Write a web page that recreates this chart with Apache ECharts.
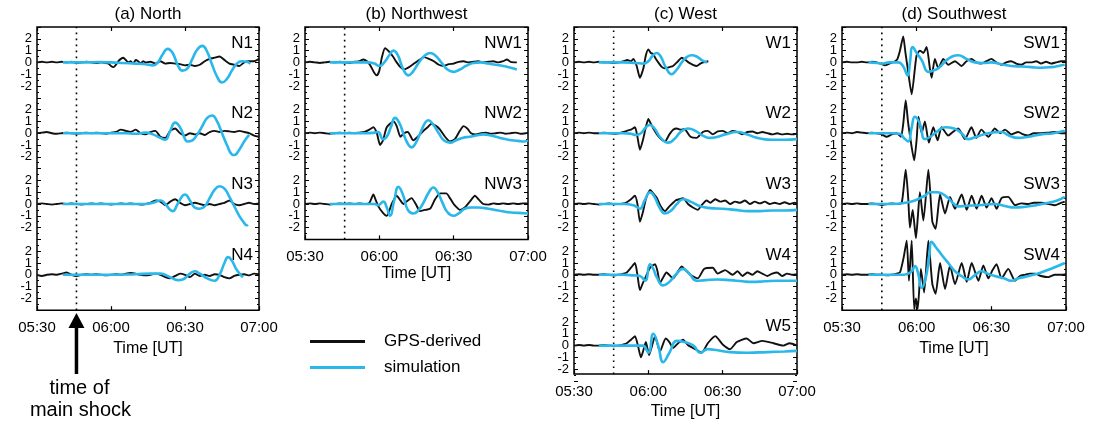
<!DOCTYPE html>
<html>
<head>
<meta charset="utf-8">
<script src="https://cdn.jsdelivr.net/npm/echarts@6/dist/echarts.min.js"></script>
<style>
  html, body { margin: 0; padding: 0; background: #fff; }
  #main { width: 1093px; height: 425px; }
</style>
</head>
<body>
<div id="main"></div>
<script>
// time axis: minutes after 05:30 UT
const timeLabels = ['05:30', '06:00', '06:30', '07:00'];
const shockMinute = 16; // 05:46 main shock

// (a) North
const n1Gps = [[0,0],[2,0.05],[4,0],[6,0.05],[8,0],[10,0.05],[12,0],[14,0.05],[16,-0.05],[18,0],[20,0.05],[22,0],[24,-0.05],[26,0],[28,-0.05],[29,-0.1],[30,-0.3],[31,-0.4],[32,-0.2],[33,0.1],[34,0.3],[35,0.4],[36,0.2],[37,0],[38,0.1],[39,-0.1],[40,0.2],[41,0.1],[42,-0.1],[43,0.1],[44,0],[46,0.05],[48,-0.1],[50,0.1],[52,-0.1],[54,-0.05],[56,-0.1],[58,-0.15],[60,-0.25],[62,-0.2],[64,-0.3],[66,-0.2],[68,0.1],[70,0.3],[72,0.4],[74,0.5],[76,0.2],[78,-0.1],[80,-0.2],[82,-0.3],[84,0],[86,0.1],[88,0.1],[90,0.3]];
const n1Sim = [[10.5,0],[15,0],[20,0],[25,0.02],[30,0],[35,-0.05],[40,-0.1],[44,-0.15],[47,-0.25],[49,0],[51,0.7],[53,1.15],[55,0.8],[57,-0.2],[59,-0.7],[61,-0.5],[63,0.3],[65,1.1],[67,1.4],[69,0.9],[71,-0.2],[73,-1.2],[75,-1.7],[77,-1.4],[79,-0.7],[81,-0.1],[83,0.1],[85,0.05],[86.5,-0.1]];
const n2Gps = [[0,0],[2,0.05],[4,0.1],[6,0],[8,-0.05],[10,0],[12,0.05],[14,0],[16,-0.05],[18,0],[20,0.05],[22,0],[24,0.05],[26,0],[28,-0.05],[30,0.05],[32,0.1],[34,0.3],[36,0.2],[38,0.1],[40,0.3],[42,0],[44,-0.1],[46,0.1],[48,0.2],[50,-0.3],[52,-0.4],[54,0.2],[56,0.4],[58,0],[60,-0.2],[62,0],[64,-0.1],[66,0],[68,-0.15],[70,0.1],[72,0.2],[74,0.1],[76,0.2],[78,0.15],[80,0.1],[82,0.2],[84,0.1],[86,0],[88,-0.2],[90,-0.3]];
const n2Sim = [[10.5,0],[20,0],[30,0],[36,0],[40,-0.05],[44,0.05],[47,-0.1],[50,-0.4],[52,-0.55],[54,0.2],[56,0.9],[58,0.5],[60,-0.5],[61,-0.7],[63,-0.6],[65,-0.1],[67,0.6],[69,1.3],[71,1.5],[73,1.0],[75,0],[77,-1.0],[79,-1.8],[80,-1.85],[82,-1.4],[84,-0.7],[86,-0.15]];
const n3Gps = [[0,0],[2,0.05],[4,0],[6,-0.05],[8,0],[10,0.05],[12,0],[14,0.05],[16,0],[18,-0.05],[20,0],[22,0.05],[24,0],[26,0.05],[28,0],[30,-0.05],[32,0],[34,0.05],[36,0],[38,0.05],[40,0],[42,-0.05],[44,0],[46,0.1],[48,0.3],[50,0.2],[52,-0.1],[54,0.2],[56,0.4],[58,0.1],[60,-0.1],[62,0],[64,0.1],[66,0],[68,-0.1],[70,0],[72,-0.1],[74,0],[76,0.1],[78,0.3],[80,0],[82,-0.1],[84,0],[86,0.1],[88,0],[90,0.05]];
const n3Sim = [[10.5,0],[20,0],[30,0],[38,0],[44,0],[47,0.1],[50,0.3],[52,0],[54,-0.5],[55,-0.6],[57,0],[59,0.7],[60,0.8],[62,0.3],[64,-0.3],[66,-0.4],[68,-0.2],[70,0.5],[72,1.2],[74,1.5],[76,1.3],[78,0.6],[80,-0.2],[82,-1.0],[84,-1.6],[85,-1.8],[85.5,-1.75]];
const n4Gps = [[0,0],[2,-0.1],[4,0],[6,0.05],[8,0],[10,0.1],[12,0.2],[14,0],[16,-0.1],[18,0],[20,0.05],[22,0],[24,0.05],[26,0],[28,-0.05],[30,0],[32,0.05],[34,0],[36,0.1],[38,0.15],[40,0.1],[42,0],[44,-0.05],[46,0],[48,0.1],[50,0],[52,-0.2],[54,-0.3],[56,-0.1],[58,0.1],[60,0],[62,-0.2],[64,0.1],[66,-0.1],[68,0],[70,-0.1],[72,0.05],[74,0],[76,-0.2],[78,-0.3],[80,-0.1],[82,0],[84,0.05],[86,-0.05],[88,0.1],[90,0.05]];
const n4Sim = [[10.5,0],[20,0],[30,0],[40,0.05],[46,0.1],[50,0.1],[54,-0.2],[57,-0.45],[59,-0.4],[62,0.1],[64,0.3],[66,0.1],[69,-0.3],[72,-0.5],[74,0],[76,1.0],[77.5,1.5],[79,1.2],[81,0.4],[83.5,-0.2]];

// (b) Northwest
const nw1Gps = [[0,0],[2,0.05],[4,0],[6,-0.05],[8,0],[10,0.05],[12,0],[14,0.05],[16,0],[18,-0.05],[20,0.05],[22,0.1],[23.5,0.25],[25,0.1],[26.5,-0.3],[28,-0.9],[29,-1.1],[30,-0.7],[31,0.4],[32.3,1.2],[34,0.9],[35.5,0.5],[37,0],[38.5,-0.4],[40,-0.6],[42,-0.4],[44,-0.1],[46,0.2],[48,0.45],[50,0.3],[52,0.1],[54,-0.2],[56,-0.3],[58,-0.15],[60,-0.1],[62,0.05],[64,0.1],[66,0],[68,0.05],[70,0.1],[72,0],[74,0.05],[76,0.1],[78,0],[80,0.1],[81.5,0.25],[83,0.05],[85.5,0]];
const nw1Sim = [[10,0],[15,0],[20,0],[25,0],[28,-0.1],[30,-0.3],[32,0],[34,0.6],[35.7,1.0],[37.5,0.6],[39.5,-0.5],[41.7,-1.1],[43.5,-0.8],[46,0],[48.5,0.6],[50.5,0.8],[52.5,0.6],[55,0],[57.5,-0.6],[60,-0.8],[62.5,-0.6],[65,-0.3],[68,-0.05],[71,0],[74,-0.1],[77,-0.2],[80,-0.3],[83,-0.45],[85.5,-0.6]];
const nw2Gps = [[0,0],[2,0.05],[4,0],[6,0.05],[8,0],[10,-0.05],[12,0],[14,0.05],[16,0],[18,0.05],[20,0],[22,0.05],[24,0.1],[26,0.3],[27.6,0.5],[29,0],[30.3,-1.0],[31.5,-0.6],[33,0.5],[35.7,1.0],[37,0.6],[38.5,-0.3],[40,0],[41.5,0.1],[43.7,-0.6],[45.5,-0.3],[47.8,0.2],[49.5,0.5],[51,0.8],[53,0.6],[54.5,0.3],[56.5,-0.3],[58.5,-0.7],[60.5,-0.5],[62.5,0.2],[64,0.6],[65.5,0.4],[67,0],[69,-0.1],[71,0],[73,0.05],[75,-0.05],[77,0],[79,0.05],[81,-0.05],[83,0],[85,0.05],[87,-0.05],[89,0],[90,0.05]];
const nw2Sim = [[10,0],[15,0],[20,0],[25,0],[28,0.05],[29.5,0.1],[31.5,-0.5],[33,-0.3],[34.8,0.6],[36.3,1.3],[38,0.9],[40,-0.2],[41.8,-1.0],[43,-1.2],[44.5,-0.9],[46.5,0],[48.5,0.9],[49.8,1.1],[51.5,0.8],[54,0],[56,-0.6],[58.5,-0.8],[61,-0.6],[63.5,-0.4],[66.5,-0.3],[69,-0.2],[72,-0.1],[75,-0.2],[78.7,-0.4],[82,-0.55],[86,-0.65],[88.5,-0.7],[90,-0.6]];
const nw3Gps = [[0,0],[2,0.05],[4,0],[6,0.05],[8,0],[10,-0.05],[12,0],[14,0.05],[16,0],[18,0.05],[20,0],[22,0.05],[24,0],[26,0.1],[27.6,0.8],[28.6,0.3],[29.6,-0.2],[31.3,-0.7],[33,-1.0],[35,0],[37,0.7],[38.5,0.3],[39.7,0],[41.5,0.3],[43,0.5],[44.7,0],[46.4,-0.6],[48.5,-0.5],[50.5,-0.4],[52.5,0.4],[54.5,0.9],[57,0.9],[58.5,0.5],[60,0],[62.6,-0.5],[64.5,-0.3],[66.5,0.2],[68.6,0.7],[70,0.4],[72,0],[74,-0.05],[76,0.05],[78,0],[80,0.05],[82,0],[84,0.05],[86,0],[88,0.05],[90,0.05]];
const nw3Sim = [[10,0],[15,0],[20,0],[25,0],[28,0],[29.5,-0.1],[31.6,0.2],[33,-0.3],[34.3,-1.0],[36,0.3],[37.7,1.45],[39.5,0.8],[41.5,-0.5],[43.7,-0.8],[45.5,-0.6],[47.5,0],[50,1.0],[51.8,1.4],[53.5,1.0],[55.5,0.1],[57.5,-0.7],[59.9,-1.0],[62,-0.8],[64.5,-0.4],[67,-0.3],[70,-0.3],[74,-0.4],[78,-0.55],[82,-0.7],[86,-0.75],[90,-0.8]];

// (c) West
const w1Gps = [[0,0],[2,0.05],[4,0],[6,0.05],[8,0],[10,0.05],[12,0],[14,0],[16,-0.05],[18,0],[20,0.1],[21.5,0.2],[23,0.1],[24,0.3],[25.3,-0.3],[26.6,-1.3],[28,-0.5],[29,0.6],[30,1.1],[31,0.8],[32,0.7],[33,0.3],[34,0],[35.5,-0.4],[36.7,-0.5],[38.5,-0.4],[40,-0.3],[42,0.1],[43.5,0.4],[45,0.2],[46.2,0],[48,-0.2],[49.5,-0.3],[51,-0.1],[52.2,0],[54.2,0.1]];
const w1Sim = [[10,0],[15,0],[20,0],[25,-0.05],[28,-0.1],[30,0.1],[31.5,0.5],[33.4,0.8],[35,0.5],[37,-0.4],[39.4,-1.0],[41.5,-0.6],[43.5,0],[45.5,0.45],[47.5,0.6],[49.5,0.5],[51.5,0.2],[53.6,0]];
const w2Gps = [[0,0],[2,0.05],[4,0],[6,0.05],[8,0],[10,0],[12,0.05],[14,0],[16,-0.05],[18,0],[20,0.1],[21.3,0.2],[23,0.3],[24.6,0.5],[25.6,-0.3],[26.6,-1.4],[27.8,-0.6],[29,0.5],[30,1.2],[31,0.8],[32,0.4],[33.5,-0.1],[34.7,-0.4],[36.7,-0.7],[38.5,-0.1],[40,0.3],[41.5,0.4],[43,0.3],[44.5,0.35],[47,-0.3],[49.5,-0.4],[52,0.1],[54,0.2],[56,-0.1],[58,0.15],[60,0.2],[62,0],[64,0.2],[66,0.1],[68,-0.1],[70,0.1],[72,0.15],[74,0],[76,0.1],[78,0],[80,-0.1],[82,0],[84,-0.1],[86,-0.05],[88,-0.1],[90,-0.05]];
const w2Sim = [[10,0],[15,0],[20,0],[23,-0.05],[25,-0.15],[27,0],[29,0.5],[30.7,0.7],[32.5,0.4],[35,-0.4],[38,-0.8],[40.5,-0.5],[43,0.1],[46,0.4],[49,0.2],[52,-0.2],[55,-0.4],[58,-0.3],[61,-0.1],[65.7,0.1],[70,-0.1],[73,-0.35],[76.4,-0.5],[80,-0.55],[85,-0.55],[90,-0.5]];
const w3Gps = [[0,0],[2,0.05],[4,0],[6,0.05],[8,0],[10,-0.05],[12,0],[14,0.05],[16,0],[18,0],[20,0.05],[21.3,0.15],[23,0.4],[24.6,0.7],[25.6,0],[26.6,-1.5],[27.8,-0.7],[29,0.4],[30.7,1.2],[32,0.9],[33.5,0.5],[35,-0.2],[36.7,-0.6],[38.5,-0.2],[41,0.3],[42.5,0.4],[44,0.5],[46,0],[48,-0.3],[50,-0.5],[51.5,-0.1],[53.5,0.3],[55,0.1],[57,0.4],[59,0.2],[61,0.3],[63,0],[65,0.2],[67,0.1],[69,0.3],[71,0],[73,0.2],[75,0.05],[77,0.2],[79,0],[81,0.1],[83,0],[85,0.15],[87,0],[89,0.1],[90,0]];
const w3Sim = [[10,0],[15,0],[20,0],[24,-0.1],[26.6,-0.4],[28.5,0.3],[30.7,1.0],[32.5,0.6],[34.5,-0.3],[36.7,-0.8],[39,-0.6],[41.5,0],[44,0.4],[47,0.2],[51,-0.2],[55,-0.35],[60,-0.4],[65,-0.5],[70,-0.6],[75,-0.6],[80,-0.55],[85,-0.55],[90,-0.5]];
const w4Gps = [[0,0],[2,0.05],[4,0],[6,0.05],[8,0],[10,0],[12,0.05],[14,0],[16,-0.05],[18,0],[20,0.1],[21.3,0.2],[23,0.6],[24.6,1.0],[25.6,0],[26.6,-1.3],[27.6,-0.8],[28.7,-0.3],[30.7,0.6],[32.7,0.9],[33.7,0.3],[34.7,-0.7],[35.8,-0.3],[37.3,0.2],[40,-0.3],[42,0.3],[43.5,0.7],[45,0.4],[47,0],[50,-0.3],[52.5,0.5],[56,0.6],[58,0.1],[61,0.4],[64,0],[66,0.3],[68,-0.1],[70,0.2],[72,0],[74,0.3],[76,0.1],[78,-0.1],[80,0.1],[82,0.2],[84,-0.1],[86,0.1],[88,0],[90,0.05]];
const w4Sim = [[10,0],[15,0],[20,0],[24,-0.05],[26.6,-0.1],[28.7,-0.5],[30.7,0.9],[32,0.5],[33.4,-0.2],[36,-0.9],[38.5,-0.6],[41,0],[44,0.5],[46.5,0.1],[49.5,-0.5],[53,-0.45],[58,-0.4],[63,-0.45],[68,-0.55],[72,-0.6],[77,-0.55],[82,-0.5],[86,-0.5],[90,-0.5]];
const w5Gps = [[0,0],[2,0.05],[4,0],[6,0.05],[8,0],[10,0],[12,0.05],[14,0],[16,-0.05],[18,0],[20,0.1],[21.3,0.2],[23,0.5],[24.6,0.8],[25.8,0],[27,-1.0],[28,-0.4],[29,0.3],[30.3,-0.8],[31.5,0],[32.7,0.8],[34.7,-0.5],[37,0.6],[38.5,0.3],[40,-0.2],[42,0.2],[44,0.5],[46.2,0],[49,-0.3],[51.5,-0.6],[54,0.2],[57,0.8],[60,0.1],[63,-0.3],[65.7,0.3],[69.7,0.6],[72.4,0.2],[76,0.4],[80.5,0.2],[84.5,0],[87,0.2],[90,0]];
const w5Sim = [[10,0],[15,0],[20,0],[25,0],[27.7,0],[30,-0.6],[32,1.0],[34,0],[36,-1.4],[38.5,-0.6],[41.5,0.4],[44.5,0.3],[48.2,0],[51,-0.6],[54,-0.3],[58,-0.4],[63,-0.55],[70,-0.6],[78,-0.55],[85,-0.5],[90,-0.45]];

// (d) Southwest
const sw1Gps = [[0,0],[2,0.05],[4,0],[6,0],[8,0.05],[10,0],[12,0.05],[14,0],[15.9,-0.15],[17.3,-0.25],[19,-0.1],[21.3,0.1],[22.3,0.3],[23.3,1.0],[24.6,2.2],[25.5,0.8],[26.4,-0.5],[28,-2.7],[29.3,-0.5],[30,0.6],[31.3,1.0],[32.7,0.8],[34,1.3],[35.3,-0.5],[36,-1.3],[37.3,0.3],[38.7,-0.5],[40.7,0.3],[42.7,-0.2],[45.4,0.1],[48,-0.3],[50,0.1],[52,0.3],[54,0],[56,-0.1],[58,0.1],[60,0.3],[62,0],[64,-0.2],[66,0],[68,0.1],[70,-0.1],[72,-0.2],[74,0],[76,0],[78,0.1],[80,-0.1],[82,0.05],[84,-0.1],[86,0],[88,0.1],[90,0.1]];
const sw1Sim = [[10.6,0],[14,-0.05],[16,-0.1],[19,0],[22.6,0],[24.5,-0.3],[26.4,-1.1],[27.3,0],[28.4,1.3],[30,0.8],[32,0.2],[34.7,-0.8],[36.5,-0.7],[38.7,-0.5],[42.7,0.3],[46.7,0.6],[50,0.3],[53.4,0],[57,-0.05],[60,0],[64,-0.15],[68,-0.3],[72,-0.35],[76,-0.4],[80,-0.45],[84,-0.4],[87,-0.3],[89.5,-0.2]];
const sw2Gps = [[0,0],[2,0.05],[4,0],[6,0.1],[8,0.05],[10,0],[12,0.05],[14,0],[16,-0.1],[17.9,-0.3],[20,-0.1],[22,0],[23.7,-0.3],[24.6,0.8],[25.6,2.8],[26.5,1.0],[27.3,-0.2],[29,-2.3],[30,-0.5],[30.7,1.4],[32,0],[33.3,1.0],[34.9,-0.8],[36.7,0.5],[38.4,-0.6],[40,0.5],[42.7,-0.2],[44.5,0.1],[46.7,0.4],[49.4,-0.5],[52,0.5],[54,-0.4],[56,0.3],[58.8,-0.3],[61.4,0.4],[63.5,0],[65.5,0.3],[68.1,-0.1],[70.8,0.1],[72.8,-0.1],[74.8,-0.2],[77,0],[80.2,0],[83,0.05],[85.5,0.1],[88,0],[90,0]];
const sw2Sim = [[10.6,0],[15,0],[20,0],[23,-0.05],[25.3,-0.5],[26.6,-0.7],[28,0.5],[29.3,1.4],[31.3,0.8],[33.3,-0.5],[35.5,-0.3],[38,0.1],[41.4,0.5],[45,0.4],[48,0],[50.7,-0.5],[54,-0.3],[58.8,0],[64,0.1],[67,-0.2],[70.8,-0.4],[75,-0.3],[80,-0.1],[85,0],[89.5,0.2]];
const sw3Gps = [[0,0],[2,0.05],[4,0],[6,0.05],[8,0],[10,0],[12,0.05],[14,0],[16,-0.1],[18,0],[20,0.05],[22,0],[24,0.1],[25.6,2.9],[26.6,0.5],[27.3,-2.0],[28.4,-0.5],[29.7,-2.9],[30.5,-1.0],[31.3,1.0],[32.7,-1.4],[34.7,2.9],[36.3,-1.5],[37.6,-2.1],[39.4,0.8],[41.4,-0.8],[43.4,0.6],[45.4,-0.4],[48.1,0.8],[50.1,-0.5],[52.1,0.7],[54.1,-0.4],[56.1,0.7],[58.1,-0.3],[60.1,0.5],[62.1,-0.4],[64.1,0.5],[66.8,0.6],[69.5,-0.1],[72,0.05],[74.8,0],[77,0.1],[80.2,0.1],[83,0],[85.5,-0.1],[88,0.1],[89.5,0.2]];
const sw3Sim = [[10.6,0],[15,0],[20,0],[25.3,0.1],[29.3,0.3],[33.3,0.7],[35.3,1.0],[38,1.0],[40,0.9],[42.7,0.5],[44.5,0.1],[46.7,-0.2],[50,-0.15],[55,-0.1],[61.4,0],[65,-0.15],[69.5,-0.3],[73,-0.25],[78,-0.1],[83,0.1],[86.5,0.3],[89.5,0.6]];
const sw4Gps = [[0,0],[2,0.05],[4,0],[6,0.05],[8,0],[10,0],[12,0.05],[14,0],[16,0],[18,-0.05],[20,0],[22,0.1],[23.3,0.2],[24.8,1.5],[26,2.9],[26.9,-0.5],[28,2.9],[29,-2.9],[29.7,-2.0],[30.4,-2.9],[31.7,0.5],[33,-1.5],[34.7,2.9],[36.3,-0.8],[37.6,-1.6],[39.4,1.0],[41.4,-1.2],[43.4,0.8],[45.4,-0.8],[48.1,1.0],[50.1,-0.6],[52.1,1.0],[54.8,-0.5],[56.8,0.8],[58.8,-0.3],[60.5,0.4],[62.1,0.9],[64.1,-0.3],[66.8,0.5],[69.5,-0.5],[71.5,-0.1],[73.5,0],[75.5,0.1],[77.5,0.1],[80,-0.1],[82.9,-0.2],[85.5,0],[88.2,0],[90,0.05]];
const sw4Sim = [[10.6,0],[15,0],[20,0],[25,0],[28,0.3],[29.3,0.75],[30.5,0.2],[32,-1.1],[33.5,-0.4],[35,1.5],[36,2.8],[37.5,2.4],[40,1.7],[42.7,1.0],[45.4,0.3],[48,-0.1],[50.7,-0.4],[53.5,0],[56,0.3],[58.5,0.1],[61.4,-0.1],[65,-0.3],[68,-0.5],[71,-0.3],[75,-0.1],[80,0.2],[85,0.6],[89.5,1.0]];

const panels = [
    {title: '(a) North', left: 37, right: 259, rows: [['N1', n1Gps, n1Sim], ['N2', n2Gps, n2Sim], ['N3', n3Gps, n3Sim], ['N4', n4Gps, n4Sim]]},
    {title: '(b) Northwest', left: 305, right: 528, rows: [['NW1', nw1Gps, nw1Sim], ['NW2', nw2Gps, nw2Sim], ['NW3', nw3Gps, nw3Sim]]},
    {title: '(c) West', left: 574, right: 797, rows: [['W1', w1Gps, w1Sim], ['W2', w2Gps, w2Sim], ['W3', w3Gps, w3Sim], ['W4', w4Gps, w4Sim], ['W5', w5Gps, w5Sim]]},
    {title: '(d) Southwest', left: 842, right: 1066, rows: [['SW1', sw1Gps, sw1Sim], ['SW2', sw2Gps, sw2Sim], ['SW3', sw3Gps, sw3Sim], ['SW4', sw4Gps, sw4Sim]]}
];

const TOP = 27;
const ROW_H = 70.8;
const FONT = 'Liberation Sans, Arial, Helvetica, sans-serif';
const BLACK = '#111';
const CYAN = '#2ab7e9';

function label(x, y, text, size, align) {
    return {
        type: 'text', x: x, y: y, silent: true,
        style: {text: text, fontSize: size, fontFamily: FONT, fill: '#000', align: align || 'center', verticalAlign: 'middle'}
    };
}

var grid = [], xAxis = [], yAxis = [], series = [], graphic = [];

panels.forEach(function (p) {
    var n = p.rows.length;
    var w = p.right - p.left;
    var fg = grid.length;
    grid.push({left: p.left, top: TOP, width: w, height: n * ROW_H, show: true, borderColor: '#000', borderWidth: 1.5, backgroundColor: 'transparent'});
    var fx = xAxis.length;
    xAxis.push({
        gridIndex: fg, type: 'value', min: 0, max: 90, interval: 30, position: 'bottom',
        axisLine: {show: false},
        axisTick: {inside: true, length: 4, lineStyle: {color: '#000', width: 1.2}},
        axisLabel: {color: '#000', fontSize: 15, fontFamily: FONT, margin: 10, formatter: function (v) { return timeLabels[Math.round(v / 30)]; }},
        splitLine: {show: false},
        name: 'Time [UT]', nameLocation: 'middle', nameGap: 25,
        nameTextStyle: {color: '#000', fontSize: 16, fontFamily: FONT}
    });
    xAxis.push({
        gridIndex: fg, type: 'value', min: 0, max: 90, interval: 30, position: 'top',
        axisLine: {show: false}, axisLabel: {show: false}, splitLine: {show: false},
        axisTick: {inside: true, length: 4, lineStyle: {color: '#000', width: 1.2}}
    });
    var fy = yAxis.length;
    yAxis.push({gridIndex: fg, type: 'value', min: 0, max: 1, show: false});
    series.push({
        type: 'line', xAxisIndex: fx, yAxisIndex: fy, silent: true, symbol: 'none',
        data: [[shockMinute, 0], [shockMinute, 1]],
        lineStyle: {color: '#000', width: 1.6, type: [1.6, 4.4]}
    });

    graphic.push(label(p.left + w / 2, 14, p.title, 17));

    p.rows.forEach(function (row, k) {
        var g = grid.length;
        var top = TOP + k * ROW_H;
        grid.push({left: p.left, top: top, width: w, height: ROW_H});
        var xi = xAxis.length;
        xAxis.push({gridIndex: g, type: 'value', min: 0, max: 90, show: false});
        var yi = yAxis.length;
        var tickStyle = {inside: true, length: 4, lineStyle: {color: '#000', width: 1}};
        yAxis.push({
            gridIndex: g, type: 'value', min: -3, max: 3, interval: 1, position: 'left',
            axisLine: {show: false}, splitLine: {show: false},
            axisTick: tickStyle,
            minorTick: {show: true, splitNumber: 2, length: 2, lineStyle: {color: '#000', width: 1}},
            axisLabel: {color: '#000', fontSize: 13, fontFamily: FONT, margin: 5, formatter: function (v) { return Math.abs(v) === 3 ? '' : String(v); }}
        });
        yAxis.push({
            gridIndex: g, type: 'value', min: -3, max: 3, interval: 1, position: 'right',
            axisLine: {show: false}, splitLine: {show: false}, axisLabel: {show: false},
            axisTick: tickStyle,
            minorTick: {show: true, splitNumber: 2, length: 2, lineStyle: {color: '#000', width: 1}}
        });
        series.push({
            name: 'GPS-derived', type: 'line', xAxisIndex: xi, yAxisIndex: yi, data: row[1],
            symbol: 'none', smooth: 0.2, itemStyle: {color: BLACK}, lineStyle: {color: BLACK, width: 1.9}, z: 3
        });
        series.push({
            name: 'simulation', type: 'line', xAxisIndex: xi, yAxisIndex: yi, data: row[2],
            symbol: 'none', smooth: 0.5, itemStyle: {color: CYAN}, lineStyle: {color: CYAN, width: 2.6}, z: 4
        });
        graphic.push(label(p.right - 6, top + 16, row[0], 17, 'right'));
    });
});

// arrow marking the main shock time under panel (a)
var ax = panels[0].left + shockMinute * (panels[0].right - panels[0].left) / 90;
graphic.push({type: 'line', shape: {x1: ax, y1: 374, x2: ax, y2: 325}, style: {stroke: '#000', lineWidth: 3.5}});
graphic.push({type: 'polygon', shape: {points: [[ax, 313], [ax - 8, 328], [ax + 8, 328]]}, style: {fill: '#000'}});
graphic.push(label(ax + 3, 388, 'time of', 20));
graphic.push(label(ax + 4, 410, 'main shock', 20));

var chart = echarts.init(document.getElementById('main'));
chart.setOption({
    animation: false,
    backgroundColor: '#fff',
    textStyle: {fontFamily: FONT},
    legend: {
        left: 305, top: 328, orient: 'vertical', icon: 'rect', itemWidth: 55, itemHeight: 3, itemGap: 9,
        selectedMode: false, data: ['GPS-derived', 'simulation'],
        textStyle: {color: '#000', fontSize: 17, fontFamily: FONT, padding: [0, 0, 0, 14]}
    },
    grid: grid,
    xAxis: xAxis,
    yAxis: yAxis,
    series: series,
    graphic: graphic
});
</script>
</body>
</html>
